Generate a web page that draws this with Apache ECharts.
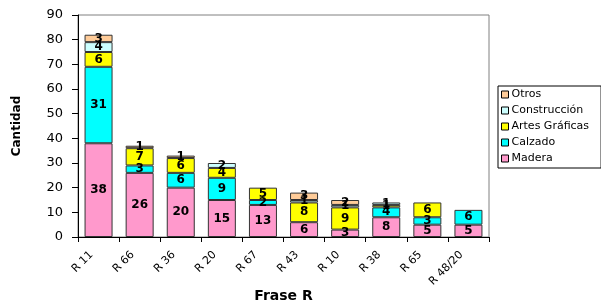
<!DOCTYPE html>
<html>
<head>
<meta charset="utf-8">
<script src="https://cdn.jsdelivr.net/npm/echarts@6/dist/echarts.min.js"></script>
<style>
  html, body { margin: 0; padding: 0; background: #fff; }
  #chart { width: 601px; height: 302px; }
</style>
</head>
<body>
<div id="chart"></div>
<script>
const categories = ['R 11', 'R 66', 'R 36', 'R 20', 'R 67', 'R 43', 'R 10', 'R 38', 'R 65', 'R 48/20']

// valores por sector (0 = sin segmento)
const madera = [38, 26, 20, 15, 13, 6, 3, 8, 5, 5]
const calzado = [31, 3, 6, 9, 2, 0, 0, 4, 3, 6]
const artesGraficas = [6, 7, 6, 4, 5, 8, 9, 1, 6, 0]
const construccion = [4, 0, 0, 2, 0, 1, 1, 1, 0, 0]
const otros = [3, 1, 1, 0, 0, 3, 2, 0, 0, 0]

const yTicks = [0, 10, 20, 30, 40, 50, 60, 70, 80, 90]

const seriesDefs = [
  { name: 'Madera', data: madera, color: '#FF99CC' },
  { name: 'Calzado', data: calzado, color: '#00FFFF' },
  { name: 'Artes Gráficas', data: artesGraficas, color: '#FFFF00' },
  { name: 'Construcción', data: construccion, color: '#CCFFFF' },
  { name: 'Otros', data: otros, color: '#FFCC99' },
]

const font = '"DejaVu Sans", Arial, sans-serif'

const chart = echarts.init(document.getElementById('chart'))

const option = {
  animation: false,
  textStyle: { fontFamily: font },
  grid: {
    left: 78,
    right: 112,
    top: 15,
    bottom: 65,
    outerBoundsMode: 'none',
    containLabel: false,
    show: true,
    borderColor: '#808080',
    borderWidth: 1,
  },
  legend: {
    orient: 'vertical',
    left: 498,
    top: 86,
    data: ['Otros', 'Construcción', 'Artes Gráficas', 'Calzado', 'Madera'],
    itemWidth: 7,
    itemHeight: 7,
    itemGap: 5,
    icon: 'rect',
    padding: [3, 12, 4, 3],
    borderColor: '#000',
    borderWidth: 1,
    textStyle: { fontSize: 11, color: '#000', padding: [0, 0, 0, -2], fontFamily: font },
    itemStyle: { borderColor: '#000', borderWidth: 1 },
  },
  xAxis: {
    type: 'category',
    data: categories,
    name: 'Frase R',
    nameLocation: 'middle',
    nameGap: 52,
    nameMoveOverlap: false,
    nameTextStyle: { fontSize: 14, fontWeight: 'bold', color: '#000', fontFamily: font },
    axisLine: { lineStyle: { color: '#000', width: 1 } },
    axisTick: { show: true, length: 5, lineStyle: { color: '#000' } },
    axisLabel: { rotate: 45, fontSize: 11, color: '#000', margin: 9, padding: [0, 10, 0, 0], fontFamily: font },
  },
  yAxis: {
    type: 'value',
    min: yTicks[0],
    max: yTicks[yTicks.length - 1],
    interval: 10,
    name: 'Cantidad',
    nameLocation: 'middle',
    nameRotate: 90,
    nameGap: 55,
    nameMoveOverlap: false,
    nameTextStyle: { fontSize: 12, fontWeight: 'bold', color: '#000', fontFamily: font },
    axisLine: { show: true, lineStyle: { color: '#000', width: 1 } },
    axisTick: { show: true, length: 6, lineStyle: { color: '#000' } },
    axisLabel: { fontSize: 13, color: '#000', margin: 15, fontFamily: font },
    splitLine: { show: false },
  },
  series: seriesDefs.map((s) => ({
    name: s.name,
    type: 'bar',
    stack: 'total',
    barWidth: 28,
    data: s.data.map((v) => (v === 0 ? null : v)),
    itemStyle: { color: s.color, borderColor: '#333', borderWidth: 1 },
    label: {
      show: true,
      position: 'inside',
      color: '#000',
      fontSize: 12,
      fontWeight: 'bold',
      fontFamily: font,
    },
  })),
}

chart.setOption(option)
</script>
</body>
</html>
